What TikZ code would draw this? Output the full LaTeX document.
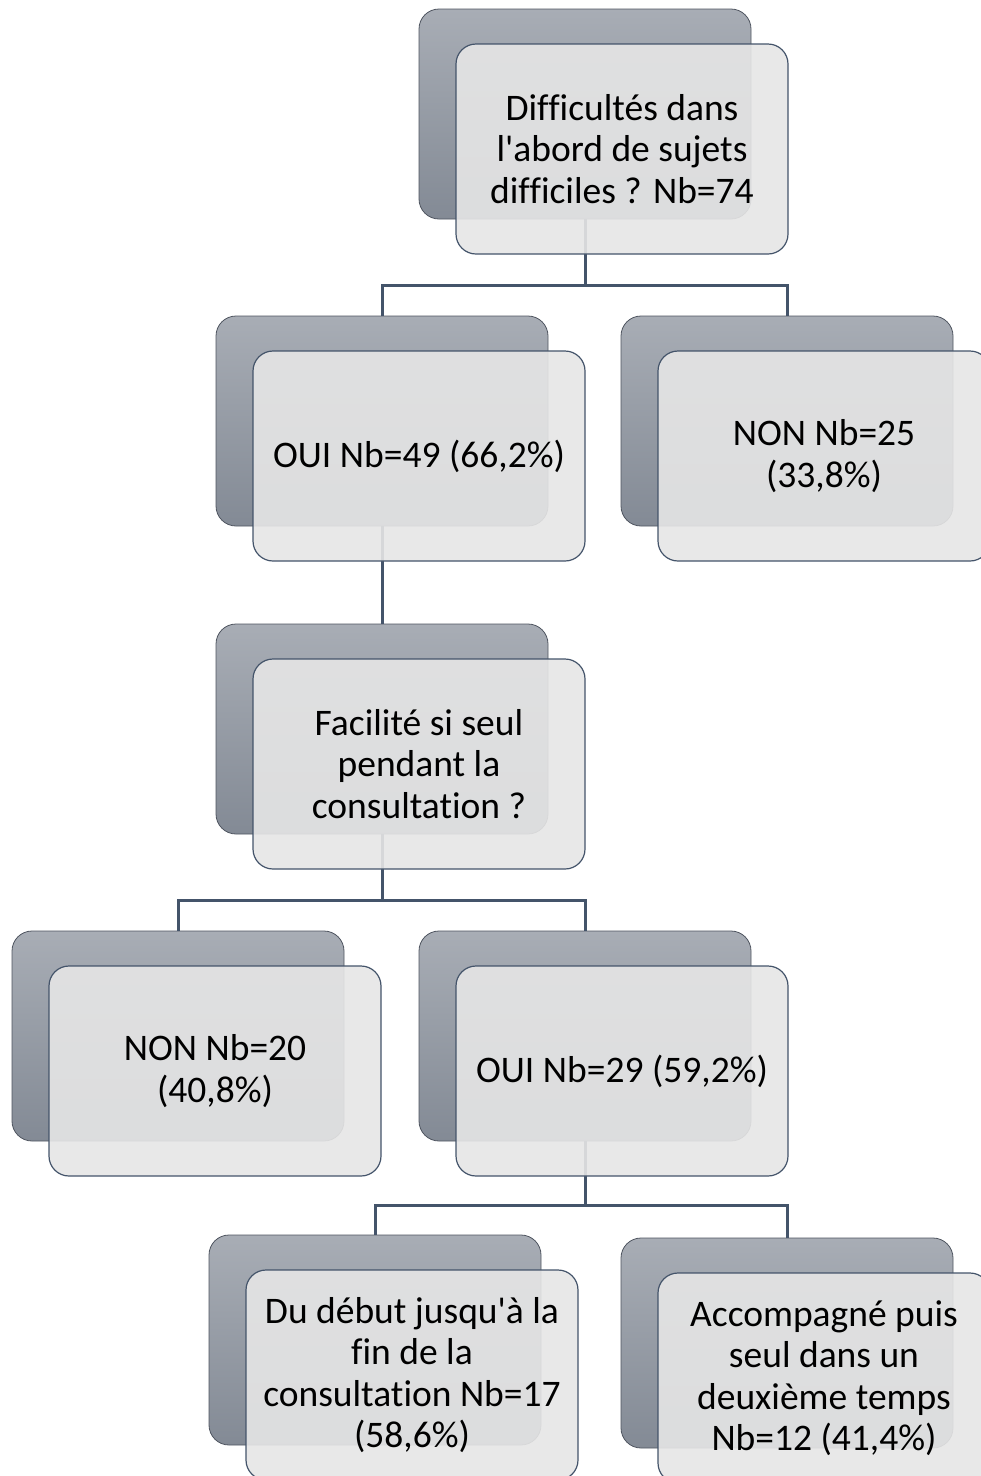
\documentclass[tikz,border=0pt]{standalone}
\usepackage{fontspec}
\setmainfont{Carlito}[Ligatures={NoCommon}]
\usetikzlibrary{positioning}
\definecolor{grigioA}{HTML}{A8ADB5}
\definecolor{grigioB}{HTML}{838A95}
\definecolor{bordo}{HTML}{4F5560}
\definecolor{chiaro}{HTML}{E6E6E6}
\definecolor{bordofr}{HTML}{44546A}
\definecolor{linea}{HTML}{44546A}
\begin{document}
\begin{tikzpicture}[x=1pt,y=-1pt,
	back/.style = {draw=bordo,line width=0.8pt,rounded corners=20pt,top color=grigioA,bottom color=grigioB,minimum width=332pt,minimum height=210pt,inner sep=0pt},
	front/.style = {draw=bordofr,line width=1.2pt,rounded corners=20pt,fill=chiaro,fill opacity=0.9,text opacity=1,minimum width=332pt,minimum height=210pt,inner sep=0pt,align=center,font=\fontsize{37.5}{41.5}\selectfont,shift={(37,35)}},
	link/.style = {draw=linea,line width=3pt}
	]
	\useasboundingbox (0,0) rectangle (981,1476);
	\clip (0,0) rectangle (981,1476);
	%SFONDI
	\node[back] (@0b) at (585,114) {};
	\node[back] (@1b) at (382,421) {};
	\node[back] (@2b) at (787,421) {};
	\node[back] (@3b) at (382,729) {};
	\node[back] (@4b) at (178,1036) {};
	\node[back] (@5b) at (585,1036) {};
	\node[back] (@6b) at (375,1340) {};
	\node[back] (@7b) at (787,1343) {};
	%COLLEGAMENTI
	\coordinate (bus0) at (0,285);
	\coordinate (bus1) at (0,900);
	\coordinate (bus2) at (0,1205);
	\draw[link] (@0b.south) -- (@0b.south |- bus0) -| (@1b.north);
	\draw[link] (@0b.south |- bus0) -| (@2b.north);
	\draw[link] (@1b.south) -- (@3b.north);
	\draw[link] (@3b.south) -- (@3b.south |- bus1) -| (@4b.north);
	\draw[link] (@3b.south |- bus1) -| (@5b.north);
	\draw[link] (@5b.south) -- (@5b.south |- bus2) -| (@6b.north);
	\draw[link] (@5b.south |- bus2) -| (@7b.north);
	%RIQUADRI
	\node[front] (@0) at (@0b) {Difficultés dans\\l\textquotesingle abord de sujets\\difficiles ? Nb=74};
	\node[front] (@1) at (@1b) {OUI Nb=49 (66,2\%)};
	\node[front] (@2) at (@2b) {NON Nb=25\\(33,8\%)};
	\node[front] (@3) at (@3b) {Facilité si seul\\pendant la\\consultation ?};
	\node[front] (@4) at (@4b) {NON Nb=20\\(40,8\%)};
	\node[front] (@5) at (@5b) {OUI Nb=29 (59,2\%)};
	\node[front] (@6) at (@6b) {Du début jusqu\textquotesingle à la\\fin de la\\consultation Nb=17\\(58,6\%)};
	\node[front] (@7) at (@7b) {Accompagné puis\\seul dans un\\deuxième temps\\Nb=12 (41,4\%)};
\end{tikzpicture}
\end{document}
